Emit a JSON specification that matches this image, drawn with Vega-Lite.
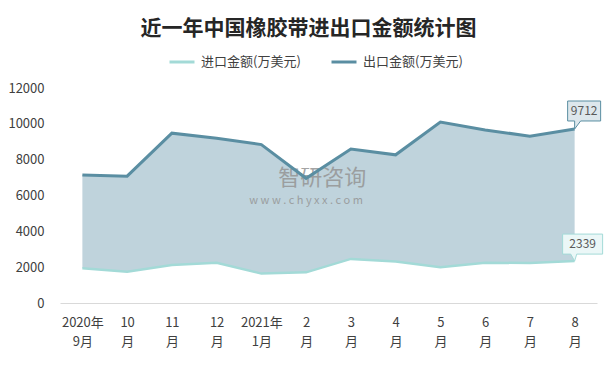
{
  "$schema": "https://vega.github.io/schema/vega-lite/v6.json",
  "width": 537,
  "height": 215,
  "autosize": {"type": "none"},
  "padding": {"left": 60, "top": 88, "right": 16, "bottom": 70},
  "background": "white",
  "config": {
    "view": {"stroke": null},
    "font": "Noto Sans CJK SC",
    "axisY": {"labelOverlap": false, "labelBound": false, "labelFlush": false}
  },
  "title": {
    "text": "近一年中国橡胶带进出口金额统计图",
    "fontSize": 21,
    "fontWeight": "bold",
    "color": "#262626",
    "anchor": "middle",
    "dx": -20,
    "offset": 9,
    "font": "Noto Sans CJK SC"
  },
  "data": {
    "values": [
      {"month": "2020年9月", "import": 1940, "export": 7150},
      {"month": "10月", "import": 1750, "export": 7080},
      {"month": "11月", "import": 2120, "export": 9480},
      {"month": "12月", "import": 2250, "export": 9200},
      {"month": "2021年1月", "import": 1640, "export": 8840},
      {"month": "2月", "import": 1710, "export": 6960},
      {"month": "3月", "import": 2460, "export": 8590},
      {"month": "4月", "import": 2310, "export": 8270},
      {"month": "5月", "import": 1990, "export": 10100},
      {"month": "6月", "import": 2250, "export": 9660},
      {"month": "7月", "import": 2230, "export": 9310},
      {"month": "8月", "import": 2339, "export": 9712}
    ]
  },
  "encoding": {
    "x": {
      "field": "month",
      "type": "nominal",
      "sort": null,
      "scale": {"padding": 0.5},
      "axis": {
        "title": null,
        "labelAngle": 0,
        "domainColor": "#d9d9d9",
        "domainWidth": 1,
        "ticks": false,
        "labelFontSize": 13,
        "labelColor": "#404040",
        "labelPadding": 13,
        "labelLineHeight": 19,
        "labelOverlap": false,
        "labelExpr": "indexof(datum.label,'年')>=0 ? [substring(datum.label,0,indexof(datum.label,'年')+1), substring(datum.label,indexof(datum.label,'年')+1)] : [substring(datum.label,0,length(datum.label)-1),'月']"
      }
    },
    "y": {
      "type": "quantitative",
      "scale": {"domain": [0, 12000], "nice": false},
      "axis": {
        "values": [0, 2000, 4000, 6000, 8000, 10000, 12000],
        "format": "d",
        "labelOverlap": false,
        "title": null,
        "grid": false,
        "domain": false,
        "ticks": false,
        "labelFontSize": 13,
        "labelColor": "#404040",
        "labelPadding": 16
      }
    }
  },
  "layer": [
    {
      "mark": {"type": "area", "color": "#bfd3dc", "opacity": 1},
      "encoding": {
        "y": {"field": "export", "type": "quantitative"},
        "y2": {"field": "import"}
      }
    },
    {
      "data": {"values": [{"wm": "智研咨询", "v": 6980}]},
      "mark": {"type": "text", "fontSize": 22, "color": "#959595", "opacity": 0.85, "dx": 16, "baseline": "middle"},
      "encoding": {
        "x": {"datum": "2月"},
        "y": {"field": "v", "type": "quantitative"},
        "text": {"field": "wm"}
      }
    },
    {
      "data": {"values": [{"wm": "w w w . c h y x x . c o m", "v": 5720}]},
      "mark": {"type": "text", "fontSize": 11, "color": "#959595", "opacity": 0.85, "baseline": "middle"},
      "encoding": {
        "x": {"datum": "2月"},
        "y": {"field": "v", "type": "quantitative"},
        "text": {"field": "wm"}
      }
    },
    {
      "mark": {"type": "line", "strokeWidth": 3},
      "encoding": {
        "y": {"field": "export", "type": "quantitative"},
        "color": {
          "datum": "出口金额(万美元)",
          "scale": {"domain": ["进口金额(万美元)", "出口金额(万美元)"], "range": ["#a3dad7", "#5a8ea2"]},
          "legend": {
            "title": null,
            "orient": "none",
            "legendX": 108,
            "legendY": -40,
            "direction": "horizontal",
            "symbolType": "stroke",
            "symbolSize": 625,
            "symbolStrokeWidth": 3,
            "labelFontSize": 13,
            "labelColor": "#404040",
            "columnPadding": 24,
            "labelOffset": 5
          }
        }
      }
    },
    {
      "mark": {"type": "line", "strokeWidth": 2.5},
      "encoding": {
        "y": {"field": "import", "type": "quantitative"},
        "color": {"datum": "进口金额(万美元)"}
      }
    },
    {
      "transform": [{"filter": "datum.month == '8月'"}],
      "layer": [
        {
          "mark": {"type": "point", "filled": true, "opacity": 1, "fill": "#dde7ec", "stroke": "#5a8ea2", "strokeWidth": 1, "size": 3600,
            "shape": "M-0.233,-0.933 H0.867 V-0.267 H0.2 L0,0 L0,-0.267 H-0.233 Z"},
          "encoding": {"y": {"field": "export", "type": "quantitative"}}
        },
        {
          "mark": {"type": "text", "fontSize": 12, "color": "#595959", "dx": 9.5, "dy": -18, "baseline": "middle", "align": "center"},
          "encoding": {"y": {"field": "export", "type": "quantitative"}, "text": {"field": "export", "type": "quantitative", "format": "d"}}
        },
        {
          "mark": {"type": "point", "filled": true, "opacity": 1, "fill": "#ebf7f7", "stroke": "#a3dad7", "strokeWidth": 1, "size": 3600,
            "shape": "M-0.4,-0.9 H0.933 V-0.233 H0.07 L0,0 L-0.13,-0.233 H-0.4 Z"},
          "encoding": {"y": {"field": "import", "type": "quantitative"}}
        },
        {
          "mark": {"type": "text", "fontSize": 12, "color": "#595959", "dx": 8, "dy": -17, "baseline": "middle", "align": "center"},
          "encoding": {"y": {"field": "import", "type": "quantitative"}, "text": {"field": "import", "type": "quantitative", "format": "d"}}
        }
      ]
    }
  ]
}
